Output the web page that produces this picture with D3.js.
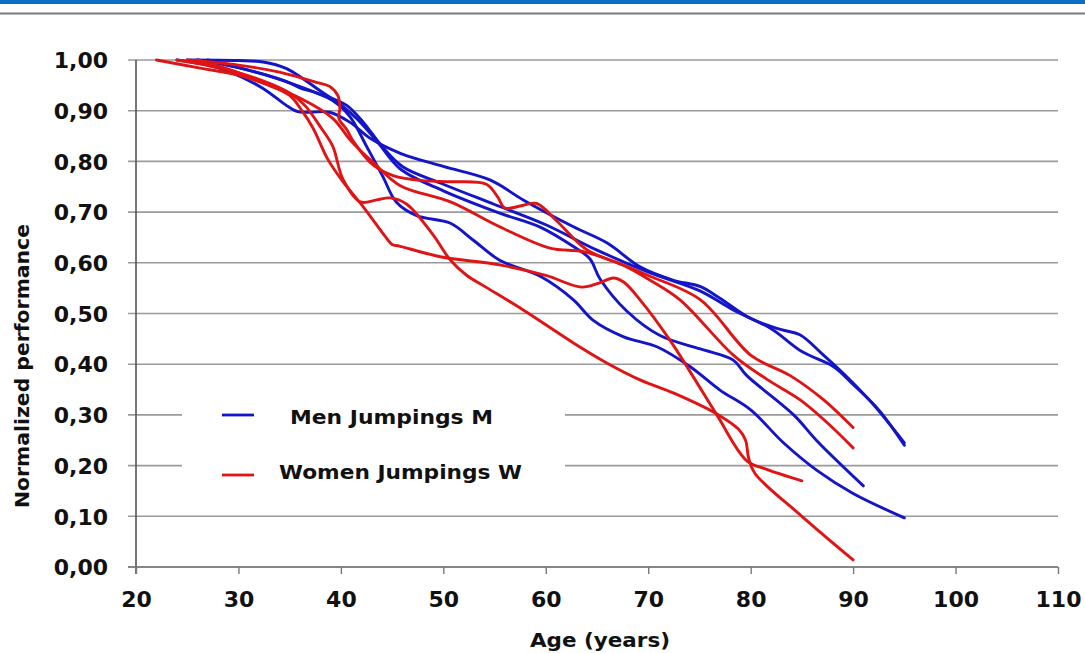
<!DOCTYPE html>
<html>
<head>
<meta charset="utf-8">
<script src="https://cdn.jsdelivr.net/npm/d3@7"></script>
<style>
html,body{margin:0;padding:0;background:#fff;}
svg{display:block;}
text{font-family:"Comic Sans MS","DejaVu Sans",sans-serif;font-weight:bold;fill:#111;}
</style>
</head>
<body>
<svg id="chart" width="1085" height="653"></svg>
<script>
// ---------- data ----------
const xTicks = [20, 30, 40, 50, 60, 70, 80, 90, 100, 110];
const yTicks = [0, 0.1, 0.2, 0.3, 0.4, 0.5, 0.6, 0.7, 0.8, 0.9, 1.0];
const xTitle = "Age (years)";
const yTitle = "Normalized performance";
const legendLabels = ["Men Jumpings M", "Women Jumpings W"];

// Men (blue) series: [age, normalized performance]
const men1 = [[24,1.0],[27,0.99],[29.2,0.976],[32.4,0.944],[34.7,0.91],[35.8,0.898],[37,0.897],[38.9,0.897],[40.9,0.877],[42.9,0.845],[45.8,0.816],[50,0.79],[54.6,0.763],[57.8,0.724],[62.7,0.671],[66,0.639],[69.2,0.592],[72.4,0.566],[75.1,0.553],[77,0.53],[80,0.49],[83,0.468],[84.8,0.458],[87,0.42],[89.7,0.369],[92,0.32],[95,0.245]];
const men2 = [[25,1.0],[30,0.999],[32.4,0.996],[34.7,0.983],[36.3,0.963],[38.9,0.927],[40.6,0.91],[42.2,0.877],[44,0.83],[46,0.79],[50,0.755],[55,0.715],[60,0.675],[65,0.625],[70.2,0.58],[75,0.545],[78.3,0.507],[82,0.47],[85,0.425],[88.1,0.395],[90,0.36],[92.5,0.31],[95,0.24]];
const men3 = [[27,1.0],[30,0.985],[34.4,0.96],[36,0.945],[37.6,0.935],[39.2,0.92],[40.9,0.888],[42.5,0.83],[44.1,0.77],[45.4,0.72],[47.4,0.693],[50.7,0.678],[52.9,0.645],[55.5,0.605],[59.5,0.573],[62.7,0.527],[64.6,0.487],[67.6,0.454],[70.9,0.434],[74.1,0.395],[77,0.349],[80,0.31],[83.2,0.245],[86.5,0.19],[90,0.145],[95,0.097]];
const men4 = [[26,1.0],[30,0.985],[34,0.962],[37,0.94],[39.5,0.918],[41.5,0.885],[43.5,0.84],[45.8,0.785],[50,0.742],[55.5,0.698],[59.5,0.67],[62.7,0.632],[64.3,0.608],[65.3,0.568],[67.9,0.505],[71.2,0.456],[75.1,0.43],[78.3,0.408],[79.6,0.378],[84.2,0.3],[86.5,0.248],[91,0.16]];

// Women (red) series
const women1 = [[25,1.0],[30,0.99],[34,0.976],[37.6,0.956],[38.9,0.948],[39.7,0.93],[39.9,0.905],[39.8,0.885],[40.6,0.862],[41.2,0.84],[43.2,0.792],[45.1,0.772],[48,0.762],[50.7,0.76],[54.2,0.755],[55.3,0.73],[56,0.708],[57.5,0.712],[59.1,0.717],[61,0.684],[64,0.626],[67.9,0.592],[70,0.568],[73.1,0.527],[78.3,0.418],[81.6,0.37],[84.8,0.33],[87.5,0.284],[90,0.235]];
const women2 = [[24,1.0],[28,0.985],[32,0.962],[35,0.935],[36.5,0.91],[38,0.868],[39.2,0.83],[40.2,0.765],[41.9,0.72],[43.5,0.724],[44.8,0.728],[46.4,0.716],[49,0.655],[50.7,0.605],[52.3,0.575],[53.9,0.555],[57.8,0.507],[62.7,0.442],[66,0.402],[69.2,0.369],[72.5,0.343],[76.7,0.302],[78.8,0.272],[79.5,0.25],[79.8,0.215],[80.4,0.185],[85,0.1],[90,0.014]];
const women3 = [[22,1.0],[26,0.985],[30,0.97],[33,0.95],[36,0.925],[39.2,0.885],[41,0.84],[43.2,0.797],[45.8,0.752],[50.7,0.72],[55.5,0.671],[60.4,0.629],[63.7,0.622],[67,0.6],[70,0.575],[75.1,0.527],[80,0.418],[83.9,0.377],[87.1,0.33],[90,0.275]];
const women4 = [[26,1.0],[30,0.975],[33,0.95],[35,0.93],[36.2,0.9],[37.3,0.865],[38.7,0.805],[40.2,0.76],[42.2,0.71],[44.4,0.65],[45,0.636],[45.7,0.633],[49.7,0.612],[55.5,0.596],[60,0.575],[63.5,0.552],[65.2,0.56],[66.6,0.57],[67.6,0.562],[69.2,0.527],[72.1,0.448],[74.4,0.375],[76.7,0.3],[79.6,0.21],[81.5,0.193],[85,0.17]];

const menSeries = [men1, men2, men3, men4];
const womenSeries = [women1, women2, women3, women4];

// ---------- layout ----------
const svg = d3.select("#chart");
const W = 1085, H = 653;
const x = d3.scaleLinear().domain([20, 110]).range([136, 1058]);
const y = d3.scaleLinear().domain([0, 1]).range([567, 60]);
const blue = "#1414c8", red = "#e01414";

// header
svg.append("rect").attr("x",0).attr("y",0).attr("width",W).attr("height",4).attr("fill","#0a6fc2");
svg.append("rect").attr("x",0).attr("y",12.5).attr("width",W).attr("height",2).attr("fill","#7a7a7a");

// gridlines
svg.append("g").selectAll("line").data(yTicks).join("line")
  .attr("x1", 128).attr("x2", x(110))
  .attr("y1", d => y(d)).attr("y2", d => y(d))
  .attr("stroke", "#9a9a9a").attr("stroke-width", 1.6);

// legend background box (interrupts gridlines)
svg.append("rect").attr("x",182).attr("y",385).attr("width",383).attr("height",110).attr("fill","#fff");

// y axis
const yAxis = d3.axisLeft(y).tickValues(yTicks).tickSize(0).tickPadding(28)
  .tickFormat(d => d3.format(".2f")(d).replace(".", ","));
const gy = svg.append("g").attr("transform","translate(136,0)").call(yAxis);
gy.select(".domain").remove();
gy.selectAll("text").style("font-size","22px").attr("dy","0.35em");
svg.append("line").attr("x1",136).attr("x2",136).attr("y1",60).attr("y2",574)
  .attr("stroke","#555").attr("stroke-width",1.6);

// x axis
const xAxis = d3.axisBottom(x).tickValues(xTicks).tickSize(7).tickPadding(17).tickFormat(d3.format("d"));
const gx = svg.append("g").attr("transform","translate(0,567)").call(xAxis);
gx.select(".domain").remove();
gx.selectAll(".tick line").attr("stroke","#777").attr("stroke-width",1.4);
gx.selectAll("text").style("font-size","22px");
svg.append("line").attr("x1",128).attr("x2",x(110)).attr("y1",567).attr("y2",567)
  .attr("stroke","#777").attr("stroke-width",1.6);

// lines
const line = d3.line().x(d => x(d[0])).y(d => y(d[1])).curve(d3.curveCatmullRom.alpha(0.5));
const gl = svg.append("g").attr("fill","none").attr("stroke-width",2.9).attr("stroke-linejoin","round").attr("stroke-linecap","round");
gl.selectAll(".m").data(menSeries).join("path").attr("class","m").attr("d", line).attr("stroke", blue);
gl.selectAll(".w").data(womenSeries).join("path").attr("class","w").attr("d", line).attr("stroke", red);

// legend
const legend = [
  {label: legendLabels[0], color: blue, ly: 415, tx: 290, ty: 417, w: 203},
  {label: legendLabels[1], color: red, ly: 475, tx: 279, ty: 472, w: 243}
];
legend.forEach(l => {
  svg.append("line").attr("x1",222).attr("x2",254).attr("y1",l.ly).attr("y2",l.ly)
    .attr("stroke", l.color).attr("stroke-width",2.8);
  svg.append("text").attr("x", l.tx).attr("y", l.ty).attr("dy","0.35em")
    .style("font-size","20px").attr("textLength", l.w).attr("lengthAdjust","spacingAndGlyphs").text(l.label);
});

// axis titles
svg.append("text").attr("x", 600).attr("y", 640).attr("dy","0.35em").attr("text-anchor","middle")
  .style("font-size","20px").attr("textLength",140).attr("lengthAdjust","spacingAndGlyphs").text(xTitle);
svg.append("text").attr("transform","translate(22,366) rotate(-90)").attr("dy","0.35em").attr("text-anchor","middle")
  .style("font-size","19px").attr("textLength",284).attr("lengthAdjust","spacingAndGlyphs").text(yTitle);
</script>
</body>
</html>
